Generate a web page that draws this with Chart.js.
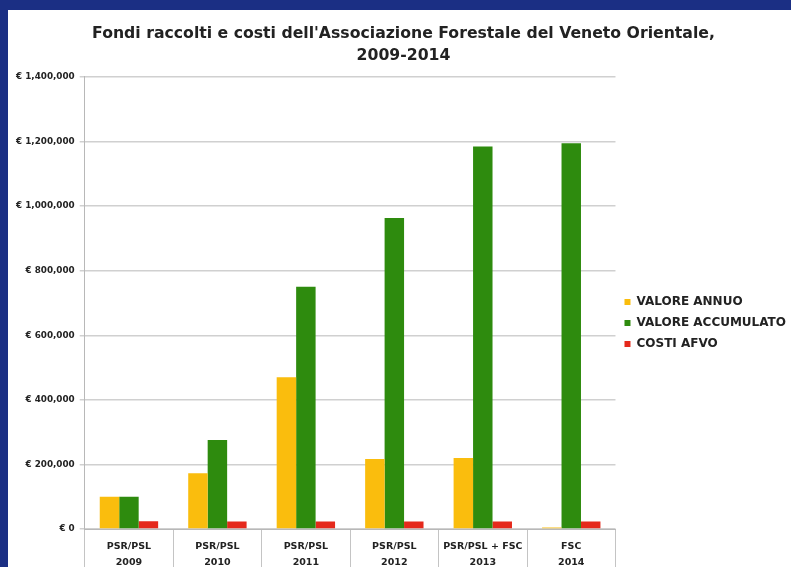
<!DOCTYPE html>
<html>
<head>
<meta charset="utf-8">
<script src="https://cdn.jsdelivr.net/npm/chart.js@4/dist/chart.umd.min.js"></script>
<style>
  html, body { margin: 0; padding: 0; overflow: hidden; }
  body { width: 791px; height: 567px; background: #1b2f84; position: relative; }
  #panel { position: absolute; left: 8px; top: 10px; width: 800px; height: 570px; background: #fff; }
  #box { position: absolute; left: 0; top: 0; width: 788px; height: 560px; }
</style>
</head>
<body>
<div id="panel"><div id="box"><canvas id="fondiChart"></canvas></div></div>
<script>
// dati
var categorie = [["PSR/PSL", "2009"], ["PSR/PSL", "2010"], ["PSR/PSL", "2011"], ["PSR/PSL", "2012"], ["PSR/PSL + FSC", "2013"], ["FSC", "2014"]];
var valoreAnnuo = [100000, 173000, 470000, 217000, 220000, 5000];
var valoreAccumulato = [100000, 276000, 750000, 963000, 1185000, 1195000];
var costiAfvo = [24000, 23000, 23000, 23000, 23000, 23000];

document.addEventListener("DOMContentLoaded", function () {
    var ctx = document.getElementById("fondiChart").getContext("2d");
    var testo = "#222";
    var font = "DejaVu Sans";

    new Chart(ctx, {
        type: "bar",
        data: {
            labels: categorie,
            datasets: [
                { label: "VALORE ANNUO", data: valoreAnnuo, backgroundColor: "#fabd0d" },
                { label: "VALORE ACCUMULATO", data: valoreAccumulato, backgroundColor: "#2e8b0e" },
                { label: "COSTI AFVO", data: costiAfvo, backgroundColor: "#e5291c" }
            ]
        },
        options: {
            responsive: true,
            maintainAspectRatio: false,
            animation: false,
            categoryPercentage: 0.66,
            barPercentage: 1.0,
            layout: { padding: { left: 3, right: 0, top: 0, bottom: 0 } },
            plugins: {
                title: {
                    display: true,
                    text: ["Fondi raccolti e costi dell'Associazione Forestale del Veneto Orientale,", "2009-2014"],
                    color: testo,
                    font: { family: font, size: 15.7, weight: "bold", lineHeight: 1.4 },
                    padding: { top: 13, bottom: 10 }
                },
                legend: {
                    position: "right",
                    title: { display: true, text: " ", padding: { top: 54, bottom: 0 }, font: { size: 10 } },
                    labels: {
                        color: testo,
                        boxWidth: 6,
                        boxHeight: 6,
                        padding: 9,
                        font: { family: font, size: 12, weight: "bold" }
                    }
                },
                tooltip: { enabled: false }
            },
            scales: {
                x: {
                    grid: {
                        offset: true,
                        drawOnChartArea: false,
                        drawTicks: true,
                        tickLength: 45,
                        color: "#c4c4c4"
                    },
                    border: { color: "#b8b8b8" },
                    ticks: {
                        color: testo,
                        padding: -36,
                        maxRotation: 0,
                        autoSkip: false,
                        font: { family: font, size: 9.5, weight: "bold", lineHeight: 1.7 }
                    },
                    afterFit: function (scale) { scale.height = 41; }
                },
                y: {
                    min: 0,
                    max: 1400000,
                    grid: { color: "#d0d0d0", lineWidth: 1.5, tickLength: 5 },
                    border: { color: "#b8b8b8" },
                    ticks: {
                        stepSize: 200000,
                        color: testo,
                        padding: 5,
                        font: { family: font, size: 8.8, weight: "bold" },
                        callback: function (v) { return "€ " + v.toLocaleString("en-US"); }
                    }
                }
            }
        }
    });
});
</script>
</body>
</html>
